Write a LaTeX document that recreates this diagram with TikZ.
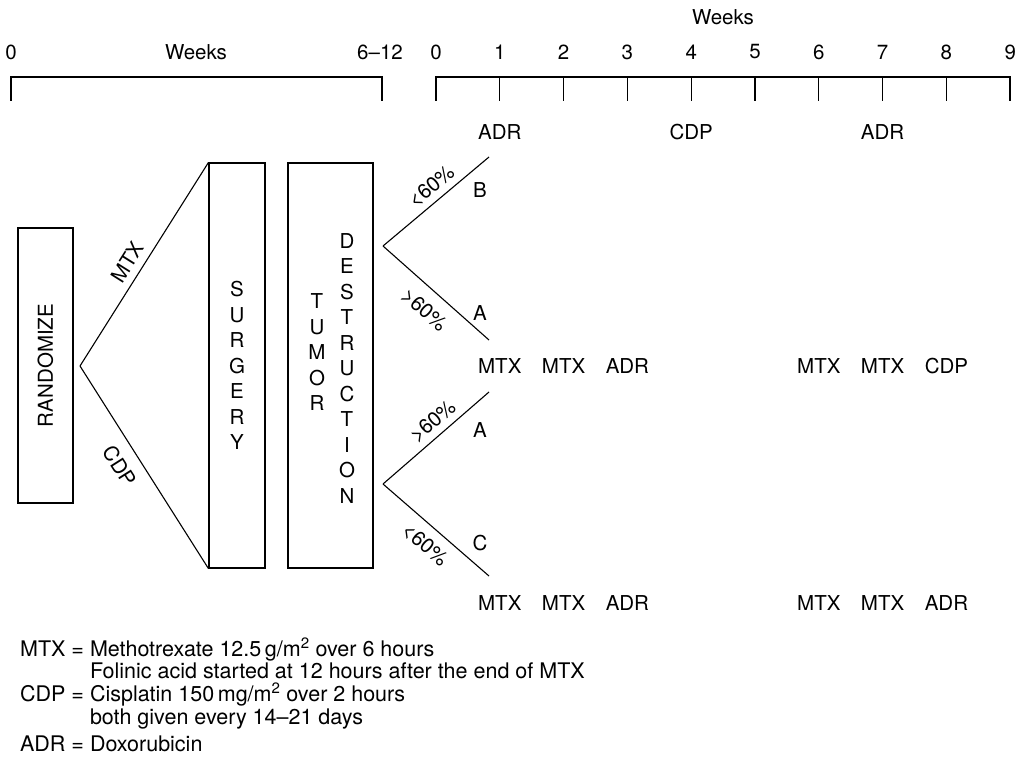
\documentclass[tikz,border=0pt]{standalone}
\usepackage{fontspec}
\setmainfont{TeX Gyre Heros}
\usetikzlibrary{positioning}
\newcommand{\labelsize}{\fontsize{20.5}{25.5}\selectfont}
\newcommand{\legendsize}{\fontsize{21.5}{25.5}\selectfont}
\newcommand{\legkey}[1]{\makebox[2.2em][r]{#1}~=~}
\newcommand{\legindent}{\phantom{\legkey{}}}
\tikzstyle{axis} = [
    line width=1.1pt,
    line cap=rect
]
\tikzstyle{weeknum} = [
    inner sep=0pt,
    font=\labelsize
]
\tikzstyle{drug} = [
    inner sep=0pt,
    font=\labelsize
]
\tikzstyle{column} = [
    rectangle,
    draw=black,
    line width=1.1pt,
    inner sep=0pt,
    font=\labelsize
]
\tikzstyle{letters} = [
    align=center,
    inner sep=0pt,
    font=\labelsize
]
\tikzstyle{line} = [line width=1.1pt]
\tikzstyle{arm} = [sloped, font=\labelsize]
\tikzstyle{legendline} = [anchor=base west, inner sep=0pt, font=\legendsize]

\begin{document}
\begin{tikzpicture}[x=1pt, y=-1pt, node distance=63.8pt]
\useasboundingbox (0,0) rectangle (1022,758);

% time scales
\draw [axis] (11,100) -- (11,77) -- (382,77) -- (382,100);
\draw [axis] (436,100) -- (436,77) -- (1010,77) -- (1010,100);
\draw [axis] (499.8,77) -- ++(0,23) (563.6,77) -- ++(0,23)
    (627.4,77) -- ++(0,23) (691.2,77) -- ++(0,23)
    (755,77) -- ++(0,23) (818.8,77) -- ++(0,23)
    (882.6,77) -- ++(0,23) (946.4,77) -- ++(0,23);

\node (pre0) [weeknum] at (11,52) {0};
\node (preweeks) [weeknum] at (196,52) {Weeks};
\node (pre12) [weeknum] at (380,52) {6--12};

\node (weeks) [weeknum] at (723,17) {Weeks};
\node (w0) [weeknum] at (436,52) {0};
\node (w1) [weeknum, right of=w0] {1};
\node (w2) [weeknum, right of=w1] {2};
\node (w3) [weeknum, right of=w2] {3};
\node (w4) [weeknum, right of=w3] {4};
\node (w5) [weeknum, right of=w4] {5};
\node (w6) [weeknum, right of=w5] {6};
\node (w7) [weeknum, right of=w6] {7};
\node (w8) [weeknum, right of=w7] {8};
\node (w9) [weeknum, right of=w8] {9};

% arm B
\node (b1) [drug] at (499.8,132) {ADR};
\node (b4) [drug] at (691.2,132) {CDP};
\node (b7) [drug] at (882.6,132) {ADR};

% arm A after MTX
\node (a1) [drug] at (499.8,366) {MTX};
\node (a2) [drug] at (563.6,366) {MTX};
\node (a3) [drug] at (627.4,366) {ADR};
\node (a6) [drug] at (818.8,366) {MTX};
\node (a7) [drug] at (882.6,366) {MTX};
\node (a8) [drug] at (946.4,366) {CDP};

% arms A and C after CDP
\node (c1) [drug] at (499.8,603) {MTX};
\node (c2) [drug] at (563.6,603) {MTX};
\node (c3) [drug] at (627.4,603) {ADR};
\node (c6) [drug] at (818.8,603) {MTX};
\node (c7) [drug] at (882.6,603) {MTX};
\node (c8) [drug] at (946.4,603) {ADR};

% boxes
\node (randomize) [column, rotate=90, minimum width=275pt, minimum height=55pt]
    at (45.5,365.5) {RANDOMIZE};
\node (surgery) [column, minimum width=56pt, minimum height=405pt]
    at (237,365.5) {};
\node (surgerytext) [letters] at (surgery.center) {S\\U\\R\\G\\E\\R\\Y};
\node (tumorbox) [column, minimum width=85pt, minimum height=405pt]
    at (330.5,365.5) {};
\node (tumor) [letters] at (317,352.5) {T\\U\\M\\O\\R};
\node (destruction) [letters] at (347,368.5)
    {D\\E\\S\\T\\R\\U\\C\\T\\I\\O\\N};

% randomization
\coordinate (split) at (80,366);
\draw [line] (split) -- node[arm, above, pos=0.47, inner sep=7.5pt]{MTX} (surgery.north west);
\draw [line] (split) -- node[arm, below, pos=0.44, inner sep=12pt]{CDP} (surgery.south west);

% response after MTX
\coordinate (forkup) at (383,246);
\coordinate (tipB) at (489,157);
\coordinate (tipA) at (489,340);
\draw [line] (forkup) -- node[arm, above, pos=0.545, inner sep=6pt]{<60\%} (tipB);
\draw [line] (forkup) -- node[arm, below, pos=0.515, inner sep=12pt]{>60\%} (tipA);
\node (armB) [drug] at (480,190) {B};
\node (armA) [drug] at (480,313) {A};

% response after CDP
\coordinate (forkdown) at (383,484);
\coordinate (tipA2) at (489,392);
\coordinate (tipC) at (489,576);
\draw [line] (forkdown) -- node[arm, above, pos=0.56, inner sep=6pt]{>60\%} (tipA2);
\draw [line] (forkdown) -- node[arm, below, pos=0.51, inner sep=10pt]{<60\%} (tipC);
\node (armA2) [drug] at (480,430) {A};
\node (armC) [drug] at (480,543) {C};

% legend
\node (leg1) [legendline] at (18,656)
    {\legkey{MTX}Methotrexate 12.5\,g/m\textsuperscript{2} over 6 hours};
\node (leg2) [legendline] at (18,678)
    {\legindent Folinic acid started at 12 hours after the end of MTX};
\node (leg3) [legendline] at (18,701)
    {\legkey{CDP}Cisplatin 150\,mg/m\textsuperscript{2} over 2 hours};
\node (leg4) [legendline] at (18,724)
    {\legindent both given every 14--21 days};
\node (leg5) [legendline] at (18,751)
    {\legkey{ADR}Doxorubicin};

\end{tikzpicture}
\end{document}
